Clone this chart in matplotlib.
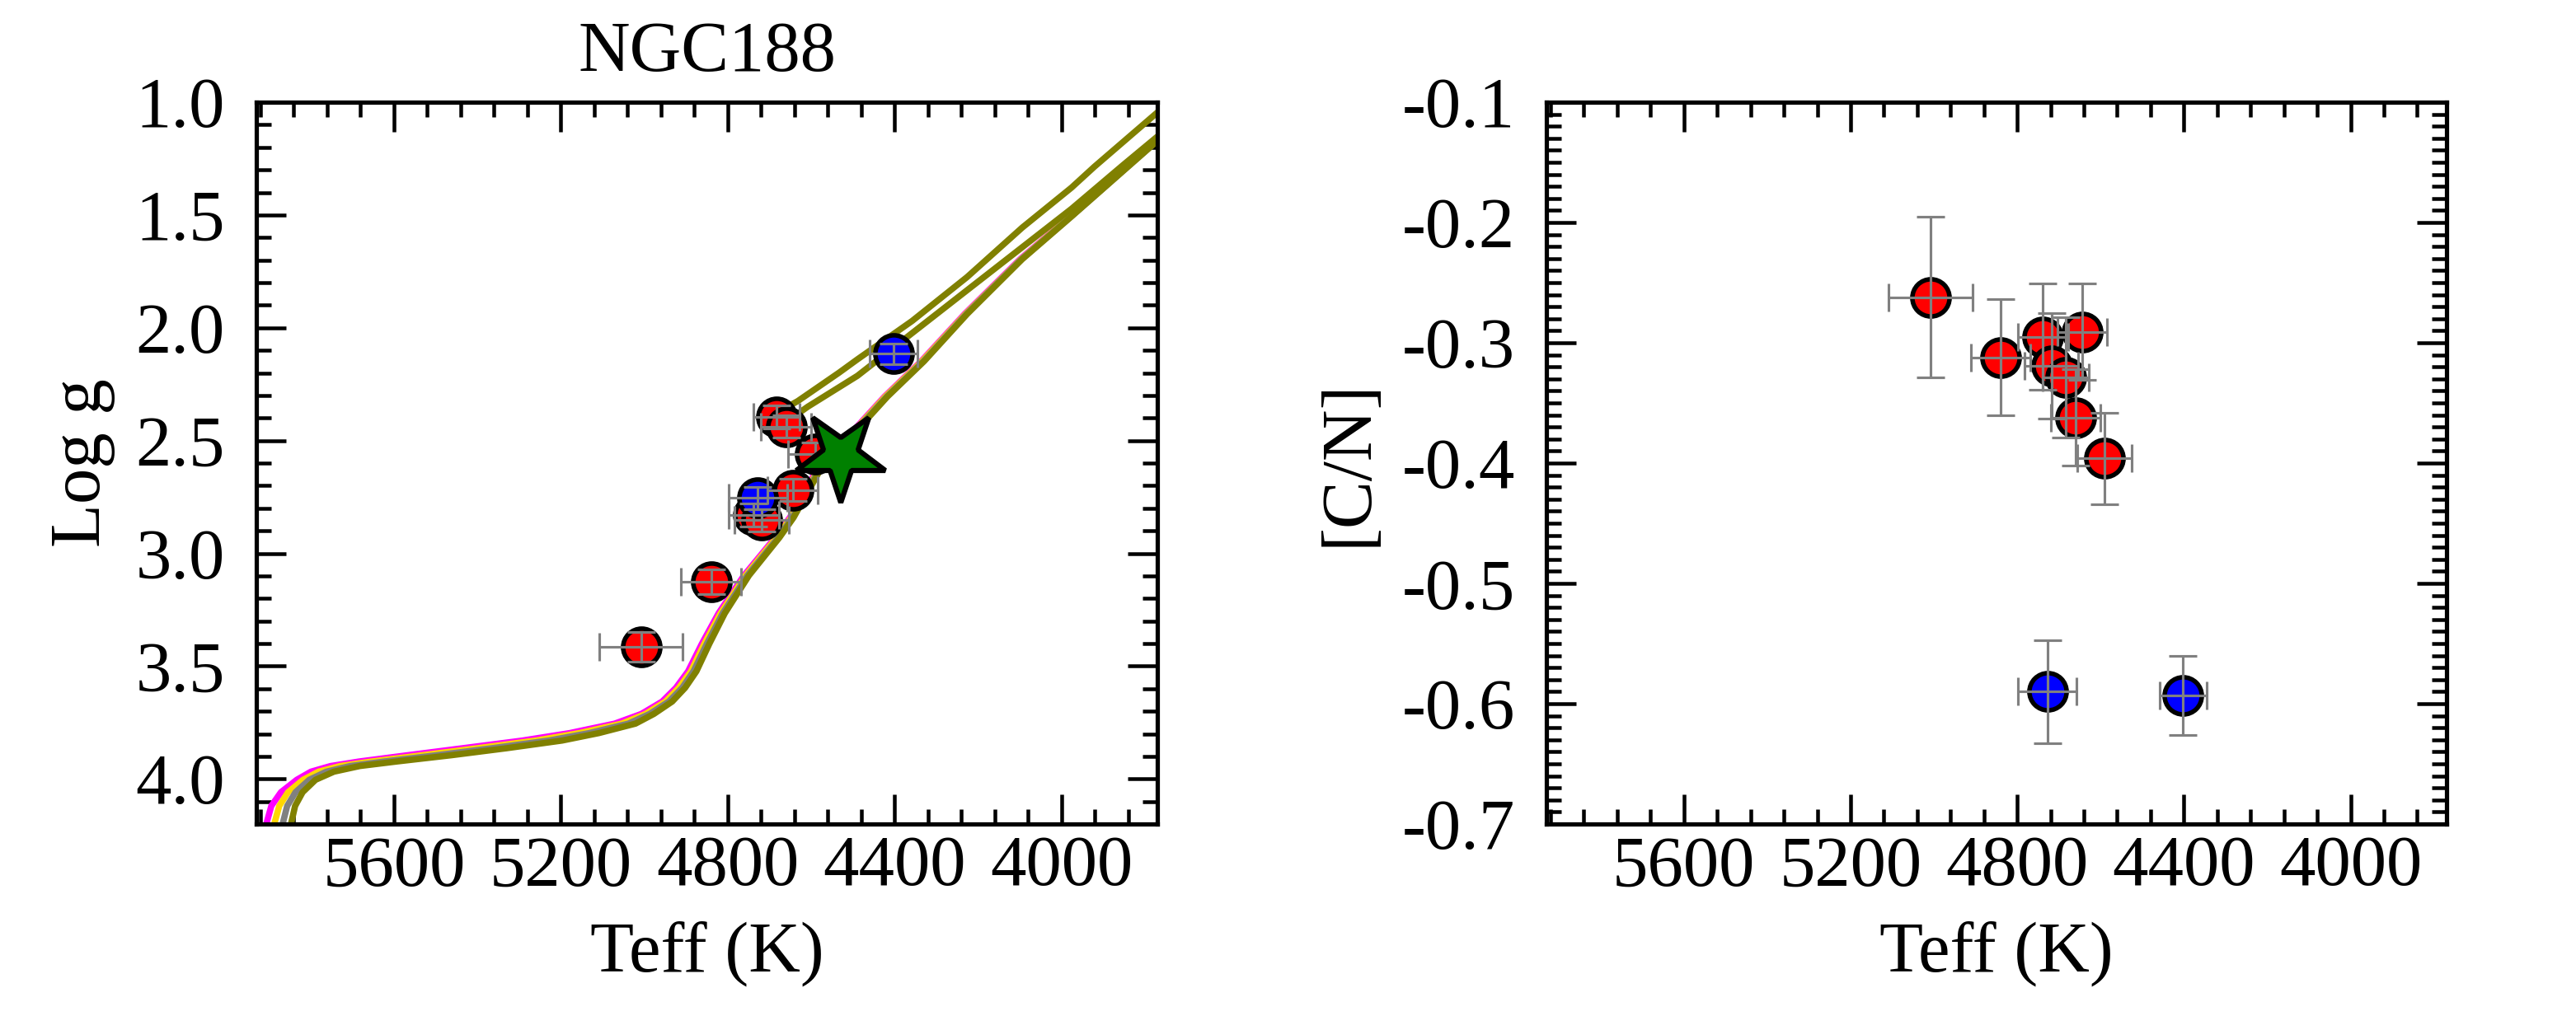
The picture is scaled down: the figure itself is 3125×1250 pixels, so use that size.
import numpy as np
import matplotlib
matplotlib.use('Agg')
import matplotlib.pyplot as plt
from matplotlib.ticker import MultipleLocator, FormatStrFormatter
from matplotlib.markers import MarkerStyle
from matplotlib.transforms import Affine2D

plt.rcParams['font.family'] = ['Liberation Serif', 'DejaVu Serif']
plt.rcParams['axes.unicode_minus'] = False

# --- NGC188 stars ---
teff_red = [5008, 4840, 4738, 4718, 4683, 4660, 4644, 4591]
teff_red_err = [100, 72, 60, 65, 55, 60, 60, 65]
logg_red = [3.415, 3.126, 2.830, 2.853, 2.396, 2.438, 2.719, 2.560]
logg_red_err = [0.065, 0.055, 0.05, 0.05, 0.05, 0.05, 0.05, 0.05]
cn_red = [-0.262, -0.312, -0.295, -0.319, -0.3285, -0.362, -0.291, -0.396]
cn_red_err = [0.067, 0.048, 0.044, 0.044, 0.05, 0.04, 0.04, 0.038]

teff_blue = [4728, 4402]
teff_blue_err = [70, 57]
logg_blue = [2.755, 2.115]
logg_blue_err = [0.05, 0.045]
cn_blue = [-0.590, -0.593]
cn_blue_err = [0.043, 0.033]

# star marker (reference object)
teff_star = [4529]
logg_star = [2.567]

# --- isochrones (RGB), common logg grid ---
iso_logg = [4.30, 4.193, 4.120, 4.059, 4.004, 3.968, 3.943, 3.923, 3.895, 3.864,
            3.830, 3.797, 3.755, 3.712, 3.657, 3.596, 3.523, 3.401, 3.266, 3.098,
            2.930, 2.841, 2.639, 2.305, 2.148, 1.939, 1.696, 1.507, 1.173]
iso_teff_magenta = [5909, 5905, 5894, 5871, 5833, 5799, 5752, 5684, 5567, 5435,
                    5292, 5179, 5071, 5007, 4957, 4924, 4895, 4862, 4822, 4761,
                    4686, 4651, 4589, 4424, 4336, 4232, 4099, 3980, 3775]
iso_teff_gold = [5890, 5886, 5875, 5854, 5818, 5781, 5729, 5654, 5532, 5400,
                 5260, 5156, 5054, 4997, 4949, 4917, 4888, 4856, 4817, 4757,
                 4683, 4648, 4586, 4422, 4334, 4230, 4097, 3979, 3774]
iso_teff_gray = [5870, 5866, 5856, 5836, 5803, 5762, 5705, 5624, 5497, 5365,
                 5229, 5132, 5038, 4987, 4941, 4909, 4882, 4850, 4812, 4753,
                 4679, 4645, 4584, 4419, 4331, 4228, 4096, 3977, 3772]
iso_teff_olive = [5850, 5846, 5837, 5819, 5788, 5744, 5682, 5594, 5462, 5330,
                  5197, 5109, 5021, 4977, 4933, 4902, 4875, 4844, 4807, 4749,
                  4676, 4642, 4581, 4417, 4329, 4226, 4094, 3976, 3771]

# upper (AGB-like) branches
agb1_teff = [4680, 4632, 4533, 4489, 4358, 4226, 4094, 3976, 3921, 3771]
agb1_logg = [2.375, 2.325, 2.199, 2.140, 1.970, 1.775, 1.556, 1.379, 1.286, 1.047]
agb2_teff = [4650, 4608, 4489, 4232, 3976, 3853, 3771]
agb2_logg = [2.405, 2.350, 2.213, 1.842, 1.473, 1.280, 1.154]

FS = 25

fig = plt.figure(figsize=(12.5, 5), dpi=250)
ax1 = fig.add_axes([0.0995, 0.2, 0.3498, 0.7008])
ax2 = fig.add_axes([0.6003, 0.2, 0.3494, 0.7008])

mk = dict(marker='o', ms=13, mec='k', mew=1.6, ls='none', zorder=4)
eb = dict(fmt='none', ecolor='gray', elinewidth=0.9, capsize=5, capthick=0.9, zorder=5)

# left panel: Kiel diagram
for t, c in [(iso_teff_magenta, 'magenta'), (iso_teff_gold, 'gold'),
             (iso_teff_gray, 'gray'), (iso_teff_olive, 'olive')]:
    ax1.plot(t, iso_logg, color=c, lw=2.2, zorder=2, solid_joinstyle='round')
ax1.plot(agb1_teff, agb1_logg, color='olive', lw=2.2, zorder=2)
ax1.plot(agb2_teff, agb2_logg, color='olive', lw=2.2, zorder=2)

ax1.plot(teff_red, logg_red, mfc='red', **mk)
ax1.plot(teff_blue, logg_blue, mfc='blue', **mk)
ax1.errorbar(teff_red, logg_red, xerr=teff_red_err, yerr=logg_red_err, **eb)
ax1.errorbar(teff_blue, logg_blue, xerr=teff_blue_err, yerr=logg_blue_err, **eb)

star = MarkerStyle('*', transform=Affine2D().rotate_deg(180))
ax1.plot(teff_star, logg_star, marker=star, ms=33, mfc='green', mec='k', mew=1.8,
         ls='none', zorder=6)

ax1.set_xlim(5930, 3770)
ax1.set_ylim(4.2, 1.0)
ax1.yaxis.set_major_locator(MultipleLocator(0.5))
ax1.yaxis.set_minor_locator(MultipleLocator(0.1))
ax1.yaxis.set_major_formatter(FormatStrFormatter('%.1f'))
ax1.set_ylabel('Log g', fontsize=FS, labelpad=7)
ax1.set_title('NGC188', fontsize=FS, pad=11)

# right panel: [C/N] vs Teff
ax2.plot(teff_red, cn_red, mfc='red', **mk)
ax2.plot(teff_blue, cn_blue, mfc='blue', **mk)
ax2.errorbar(teff_red, cn_red, xerr=teff_red_err, yerr=cn_red_err, **eb)
ax2.errorbar(teff_blue, cn_blue, xerr=teff_blue_err, yerr=cn_blue_err, **eb)

ax2.set_xlim(5930, 3770)
ax2.set_ylim(-0.7, -0.1)
ax2.yaxis.set_major_locator(MultipleLocator(0.1))
ax2.yaxis.set_minor_locator(MultipleLocator(0.01))
ax2.yaxis.set_major_formatter(FormatStrFormatter('%.1f'))
ax2.set_ylabel('[C/N]', fontsize=FS, labelpad=7)

for ax in (ax1, ax2):
    ax.xaxis.set_major_locator(MultipleLocator(400))
    ax.xaxis.set_minor_locator(MultipleLocator(80))
    ax.set_xlabel('Teff (K)', fontsize=FS, labelpad=7)
    ax.tick_params(which='both', direction='in', top=True, right=True, labelsize=FS)
    ax.tick_params(which='major', length=10.5, width=1.3)
    ax.tick_params(which='minor', length=5.3, width=1.3)
    ax.tick_params(axis='x', which='major', pad=4)
    ax.tick_params(axis='y', which='major', pad=11)
    for s in ax.spines.values():
        s.set_linewidth(1.5)

fig.savefig('out.png', dpi=250)
